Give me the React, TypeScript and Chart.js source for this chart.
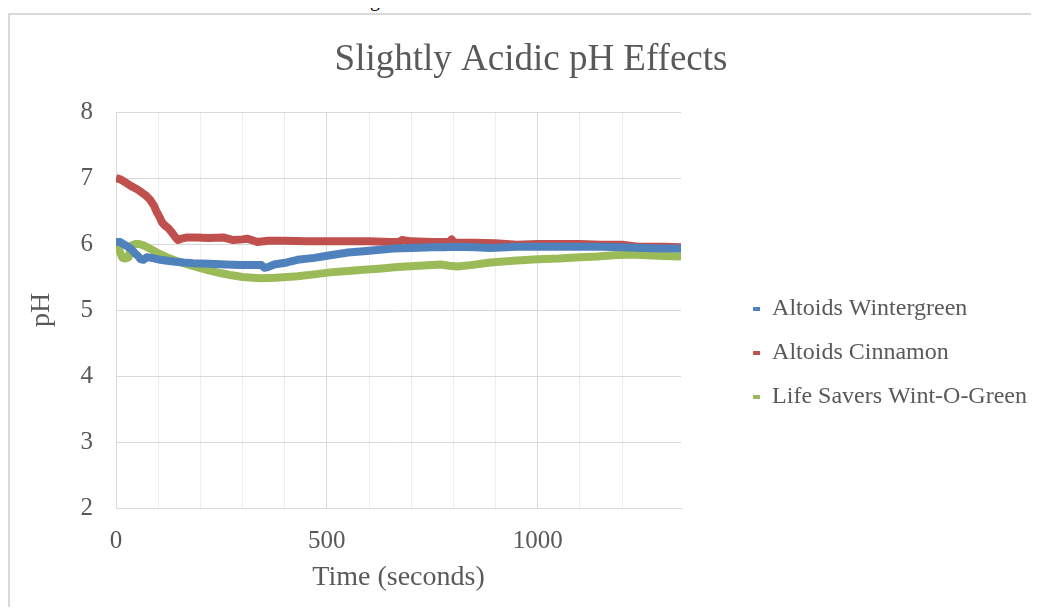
import React, { useEffect, useRef } from "react";
import { Chart, registerables } from "chart.js";

Chart.register(...registerables);

const FONT = "'Liberation Serif', 'Times New Roman', serif";
const TEXT = "#595959";

const chartTitle = "Slightly Acidic pH Effects";
const xAxisTitle = "Time (seconds)";
const yAxisTitle = "pH";

const seriesNames = ["Altoids Wintergreen", "Altoids Cinnamon", "Life Savers Wint-O-Green"];
const seriesColors = ["#4f81bd", "#c0504d", "#9bbb59"];

const xLabelledTicks = [0, 500, 1000];
const xMin = 0;
const xMax = 1340;
const xStep = 100;
const yMin = 2;
const yMax = 8;
const yStep = 1;

const timeWintergreen = [0, 10, 17, 25, 35, 45, 52, 58, 65, 73, 85, 105, 130, 160, 183, 220, 260, 295, 330, 345, 352, 360, 375, 405, 430, 470, 508, 550, 587, 620, 658, 700, 750, 777, 800, 850, 888, 950, 1000, 1050, 1100, 1150, 1200, 1250, 1300, 1340];
const phWintergreen = [6.03, 6.03, 6.0, 5.97, 5.93, 5.86, 5.82, 5.77, 5.76, 5.8, 5.79, 5.76, 5.74, 5.72, 5.71, 5.7, 5.69, 5.68, 5.68, 5.68, 5.64, 5.65, 5.69, 5.72, 5.76, 5.79, 5.83, 5.87, 5.89, 5.91, 5.93, 5.94, 5.95, 5.95, 5.96, 5.95, 5.94, 5.96, 5.96, 5.96, 5.96, 5.96, 5.95, 5.94, 5.93, 5.93];

const timeCinnamon = [0, 10, 21, 35, 50, 57, 70, 81, 90, 97, 104, 109, 116, 124, 132, 140, 147, 155, 169, 190, 220, 254, 278, 300, 311, 322, 335, 360, 400, 450, 500, 550, 600, 650, 672, 678, 700, 750, 790, 796, 802, 850, 900, 950, 1000, 1050, 1100, 1150, 1200, 1237, 1260, 1300, 1340];
const phCinnamon = [7.0, 6.98, 6.94, 6.88, 6.83, 6.8, 6.74, 6.67, 6.58, 6.48, 6.4, 6.33, 6.28, 6.24, 6.18, 6.11, 6.06, 6.08, 6.1, 6.1, 6.09, 6.1, 6.06, 6.07, 6.08, 6.06, 6.03, 6.05, 6.05, 6.04, 6.04, 6.04, 6.04, 6.03, 6.03, 6.06, 6.04, 6.03, 6.03, 6.07, 6.02, 6.02, 6.01, 5.99, 6.0, 6.0, 6.0, 5.99, 5.99, 5.96, 5.96, 5.96, 5.95];

const timeLifeSavers = [0, 8, 15, 22, 30, 35, 45, 55, 65, 80, 97, 120, 145, 170, 192, 220, 247, 271, 300, 342, 380, 430, 470, 508, 550, 587, 630, 667, 720, 770, 790, 810, 840, 888, 950, 1000, 1050, 1100, 1142, 1180, 1221, 1260, 1300, 1340];
const phLifeSavers = [6.0, 5.9, 5.79, 5.78, 5.8, 5.97, 6.0, 6.0, 5.98, 5.93, 5.87, 5.8, 5.74, 5.69, 5.65, 5.6, 5.56, 5.53, 5.5, 5.48, 5.49, 5.51, 5.54, 5.57, 5.59, 5.61, 5.63, 5.65, 5.67, 5.69, 5.67, 5.66, 5.68, 5.72, 5.75, 5.77, 5.78, 5.8, 5.81, 5.83, 5.84, 5.83, 5.82, 5.81];

const seriesTimes = [timeWintergreen, timeCinnamon, timeLifeSavers];
const seriesValues = [phWintergreen, phCinnamon, phLifeSavers];

export default function App() {
  const canvasRef = useRef<HTMLCanvasElement | null>(null);

  useEffect(() => {
    const canvas = canvasRef.current;
    if (!canvas) return;

    const datasets = seriesNames.map((name, i) => ({
      label: name,
      data: seriesTimes[i].map((t, k) => ({ x: t, y: seriesValues[i][k] })),
      borderColor: seriesColors[i],
      backgroundColor: seriesColors[i],
      borderWidth: 8,
      pointRadius: 0,
      pointHoverRadius: 0,
      tension: 0,
      borderJoinStyle: "round" as const,
      borderCapStyle: "butt" as const,
    }));

    const chart = new Chart(canvas, {
      type: "line",
      data: { datasets },
      options: {
        animation: false,
        responsive: false,
        maintainAspectRatio: false,
        devicePixelRatio: 1,
        events: [],
        layout: { padding: { left: 25, right: 2, top: 0, bottom: 0 } },
        plugins: {
          tooltip: { enabled: false },
          title: {
            display: true,
            text: chartTitle,
            color: TEXT,
            font: { family: FONT, size: 37, weight: "normal", lineHeight: 1.2 },
            padding: { top: 37.8, bottom: 29.8 },
          },
          legend: {
            display: true,
            position: "right",
            align: "center",
            fullSize: false,
            maxWidth: 340,
            title: {
              display: true,
              text: "",
              font: { family: FONT, size: 10, lineHeight: 1 },
              padding: { top: 76, bottom: 0 },
            },
            labels: {
              boxWidth: 7,
              boxHeight: 4,
              padding: 20,
              color: TEXT,
              font: { family: FONT, size: 24 },
              generateLabels: (ch: any) =>
                Chart.defaults.plugins.legend.labels
                  .generateLabels(ch)
                  .map((item: any, i: number) => ({
                    ...item,
                    fillStyle: seriesColors[i],
                    strokeStyle: seriesColors[i],
                    lineWidth: 0,
                  })),
            },
          },
        },
        scales: {
          x: {
            type: "linear",
            position: "bottom",
            min: xMin,
            max: xMax,
            afterFit: (s: any) => {
              s.height = 107;
            },
            ticks: {
              stepSize: xStep,
              autoSkip: false,
              maxRotation: 0,
              minRotation: 0,
              padding: 18,
              color: TEXT,
              font: { family: FONT, size: 25 },
              callback: (v: any) => (xLabelledTicks.includes(Number(v)) ? String(v) : ""),
            },
            grid: {
              drawTicks: false,
              lineWidth: 1,
              color: (ctx: any) => {
                const v = ctx.tick ? ctx.tick.value : 0;
                if (v === xMax) return "rgba(0,0,0,0)";
                return v % 500 === 0 ? "#d9d9d9" : "#eeeeee";
              },
            },
            border: { display: true, color: "#d9d9d9", width: 1 },
            title: {
              display: true,
              text: xAxisTitle,
              color: TEXT,
              font: { family: FONT, size: 28, lineHeight: 1.2 },
              padding: { top: 0, bottom: 20.2 },
            },
          },
          y: {
            type: "linear",
            position: "left",
            min: yMin,
            max: yMax,
            afterFit: (s: any) => {
              s.width = 91;
            },
            ticks: {
              stepSize: yStep,
              padding: 23,
              color: TEXT,
              font: { family: FONT, size: 25 },
            },
            grid: { drawTicks: false, color: "#d9d9d9", lineWidth: 1 },
            border: { display: false },
            title: {
              display: true,
              text: yAxisTitle,
              color: TEXT,
              font: { family: FONT, size: 28, lineHeight: 1.2 },
              padding: { top: 0, bottom: 0 },
            },
          },
          spacer: {
            type: "linear",
            position: "right",
            display: true,
            afterFit: (s: any) => {
              s.width = 52;
            },
            ticks: { display: false },
            grid: { display: false, drawTicks: false },
            border: { display: false },
            title: { display: false },
          },
        },
      } as any,
    });

    return () => {
      chart.destroy();
    };
  }, []);

  return (
    <div
      style={{
        position: "relative",
        width: 1039,
        height: 615,
        margin: -8,
        overflow: "hidden",
        background: "#ffffff",
      }}
    >
      <span
        style={{
          position: "absolute",
          left: 370,
          top: -11,
          fontFamily: FONT,
          fontSize: 20,
          lineHeight: "20px",
          color: "#000000",
        }}
      >
        g
      </span>
      <div
        style={{
          position: "absolute",
          left: 8,
          top: 13,
          width: 1100,
          height: 700,
          borderLeft: "2px solid #d9d9d9",
          borderTop: "2px solid #d9d9d9",
        }}
      />
      <canvas
        ref={canvasRef}
        width={1039}
        height={615}
        style={{ position: "absolute", left: 0, top: 0, width: 1039, height: 615, display: "block" }}
      />
    </div>
  );
}
